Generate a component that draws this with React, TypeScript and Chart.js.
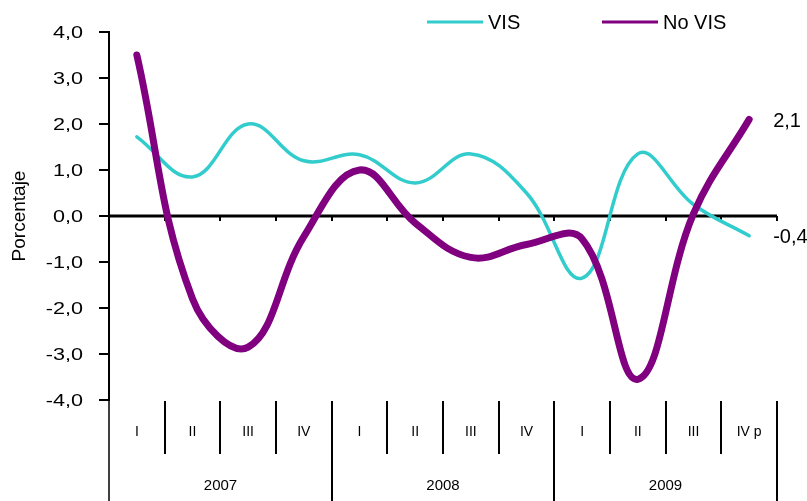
import React, { useEffect, useRef } from 'react';
import { Chart, registerables } from 'chart.js';

Chart.register(...registerables);

const quarters = ['I', 'II', 'III', 'IV', 'I', 'II', 'III', 'IV', 'I', 'II', 'III', 'IV p'];
const years = ['2007', '2008', '2009'];
const quartersPerYear = 4;
const visValues = [1.72, 0.85, 2.0, 1.2, 1.33, 0.72, 1.35, 0.5, -1.35, 1.35, 0.25, -0.43];
const noVisValues = [3.5, -1.8, -2.85, -0.45, 1.0, -0.15, -0.9, -0.62, -0.5, -3.55, 0.05, 2.1];
const seriesNames = ['VIS', 'No VIS'];
const seriesColors = ['#33CCCC', '#800080'];
const yMin = -4;
const yMax = 4;
const yStep = 1;

const FONT = '"Liberation Sans", Arial, sans-serif';
const fmt = (v: number, d = 1) => v.toFixed(d).replace('.', ',');

const zeroLinePlugin = {
  id: 'zeroLine',
  beforeDatasetsDraw(chart: any) {
    const { ctx, chartArea, scales } = chart;
    const x = scales.x;
    const y = scales.y;
    const y0 = y.getPixelForValue(0);
    const half = (x.getPixelForValue(1) - x.getPixelForValue(0)) / 2;
    ctx.save();
    ctx.strokeStyle = '#000';
    ctx.lineWidth = 3;
    ctx.beginPath();
    ctx.moveTo(chartArea.left, y0);
    ctx.lineTo(chartArea.right, y0);
    ctx.stroke();
    ctx.lineWidth = 2;
    for (let i = 1; i <= quarters.length; i++) {
      const bx = Math.round(x.getPixelForValue(i) - half);
      ctx.beginPath();
      ctx.moveTo(bx, y0);
      ctx.lineTo(bx, y0 + 5);
      ctx.stroke();
    }
    ctx.restore();
  },
};

const yTickLabelsPlugin = {
  id: 'yTickLabels',
  afterDraw(chart: any) {
    const { ctx, scales } = chart;
    const y = scales.y;
    ctx.save();
    ctx.fillStyle = '#000';
    ctx.font = `17px ${FONT}`;
    ctx.textAlign = 'right';
    ctx.textBaseline = 'middle';
    y.ticks.forEach((t: any) => {
      const py = y.getPixelForValue(t.value);
      ctx.save();
      ctx.translate(y.right - 26, py + 1);
      ctx.scale(1.27, 1);
      ctx.fillText(fmt(t.value), 0, 0);
      ctx.restore();
    });
    ctx.restore();
  },
};

const bottomAxisPlugin = {
  id: 'bottomAxis',
  afterDraw(chart: any) {
    const { ctx, chartArea, scales, height } = chart;
    const x = scales.x;
    const n = quarters.length;
    const half = (x.getPixelForValue(1) - x.getPixelForValue(0)) / 2;
    const boundary = (i: number) => Math.round(x.getPixelForValue(i) - half);
    const top = chartArea.bottom + 1;
    ctx.save();
    ctx.strokeStyle = '#000';
    for (let i = 0; i <= n; i++) {
      const bx = boundary(i);
      const isYear = i % quartersPerYear === 0;
      ctx.lineWidth = i === 0 ? 1.5 : 2;
      ctx.beginPath();
      ctx.moveTo(bx, top);
      ctx.lineTo(bx, isYear ? height : top + 53);
      ctx.stroke();
    }
    ctx.fillStyle = '#000';
    ctx.textAlign = 'center';
    ctx.textBaseline = 'middle';
    ctx.font = `14px ${FONT}`;
    quarters.forEach((q, i) => {
      ctx.fillText(q, x.getPixelForValue(i), top + 31);
    });
    ctx.font = `15px ${FONT}`;
    years.forEach((yr, k) => {
      const a = boundary(k * quartersPerYear);
      const b = boundary((k + 1) * quartersPerYear);
      ctx.fillText(yr, (a + b) / 2, top + 85);
    });
    ctx.restore();
  },
};

const labelsPlugin = {
  id: 'endLabels',
  afterDatasetsDraw(chart: any) {
    const { ctx } = chart;
    ctx.save();
    ctx.fillStyle = '#000';
    ctx.font = `20px ${FONT}`;
    ctx.textAlign = 'left';
    ctx.textBaseline = 'middle';
    chart.data.datasets.forEach((ds: any, di: number) => {
      const meta = chart.getDatasetMeta(di);
      const last = meta.data[meta.data.length - 1];
      const v = ds.data[ds.data.length - 1];
      ctx.fillText(fmt(v), last.x + 24, last.y + 2);
    });
    ctx.restore();
  },
};

const legendPlugin = {
  id: 'customLegend',
  afterDraw(chart: any) {
    const { ctx } = chart;
    const starts = [427, 602];
    const ly = 22;
    ctx.save();
    ctx.font = `20px ${FONT}`;
    ctx.textAlign = 'left';
    ctx.textBaseline = 'middle';
    seriesNames.forEach((name, i) => {
      ctx.strokeStyle = seriesColors[i];
      ctx.lineWidth = 3;
      ctx.beginPath();
      ctx.moveTo(starts[i], ly);
      ctx.lineTo(starts[i] + 56, ly);
      ctx.stroke();
      ctx.fillStyle = '#000';
      ctx.fillText(name, starts[i] + 61, ly + 1);
    });
    ctx.restore();
  },
};

export default function App() {
  const ref = useRef<HTMLCanvasElement>(null);
  useEffect(() => {
    document.body.style.margin = '0';
    const canvas = ref.current!;
    const chart = new Chart(canvas, {
      type: 'line',
      data: {
        labels: quarters,
        datasets: [
          {
            label: seriesNames[0],
            data: visValues,
            borderColor: seriesColors[0],
            borderWidth: 3.5,
            pointRadius: 0,
            tension: 0.4,
            borderCapStyle: 'round',
            borderJoinStyle: 'round',
            order: 1,
          },
          {
            label: seriesNames[1],
            data: noVisValues,
            borderColor: seriesColors[1],
            borderWidth: 7,
            pointRadius: 0,
            tension: 0.4,
            borderCapStyle: 'round',
            borderJoinStyle: 'round',
            order: 0,
          },
        ],
      },
      options: {
        responsive: false,
        animation: false,
        layout: { padding: { left: 0, right: 30, top: 32, bottom: 101 } },
        plugins: {
          legend: { display: false },
          tooltip: { enabled: false },
        },
        scales: {
          x: {
            type: 'category',
            display: false,
            offset: true,
          },
          y: {
            min: yMin,
            max: yMax,
            afterFit(scale: any) {
              scale.width = 109;
            },
            ticks: {
              stepSize: yStep,
              color: 'rgba(0,0,0,0)',
              font: { size: 17, family: FONT },
              padding: 15,
              callback: (v: any) => fmt(Number(v)),
            },
            grid: {
              display: true,
              drawOnChartArea: false,
              drawTicks: true,
              tickLength: 10,
              color: '#000',
              lineWidth: 2,
            },
            border: { display: true, color: '#000', width: 2 },
            title: {
              display: true,
              text: 'Porcentaje',
              color: '#000',
              font: { size: 19, family: FONT },
              padding: { top: 8, bottom: 0 },
            },
          },
        },
      },
      plugins: [zeroLinePlugin, bottomAxisPlugin, labelsPlugin, legendPlugin, yTickLabelsPlugin],
    } as any);
    return () => chart.destroy();
  }, []);
  return (
    <div style={{ width: 807, height: 501 }}>
      <canvas ref={ref} width={807} height={501} style={{ width: 807, height: 501, display: 'block' }} />
    </div>
  );
}
